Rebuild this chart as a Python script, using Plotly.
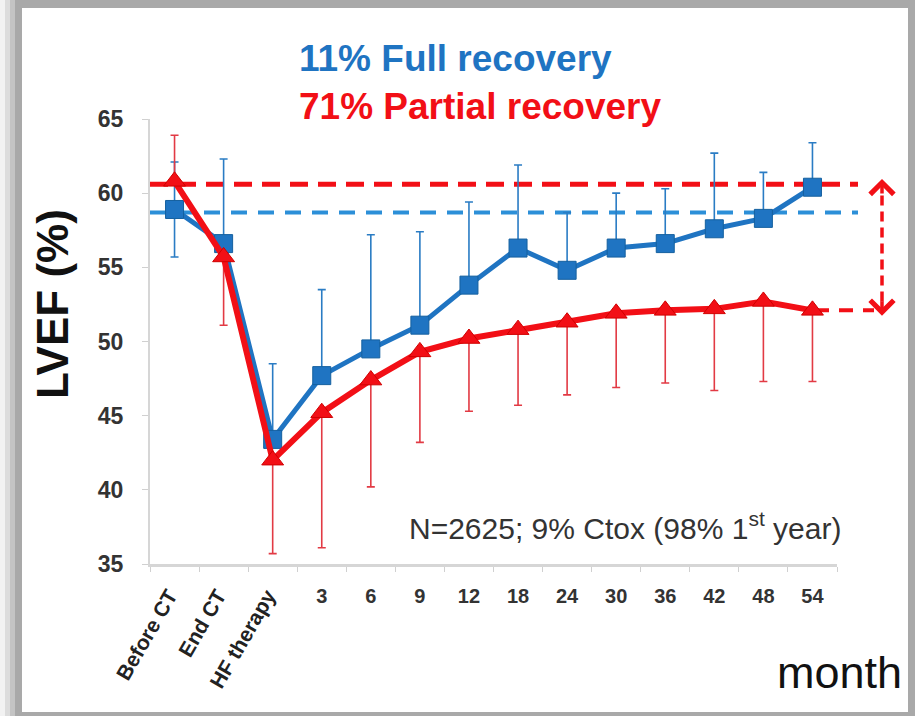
import plotly.graph_objects as go

# ---------------- data ----------------
categories = ["Before CT", "End CT", "HF therapy", "3", "6", "9", "12", "18",
              "24", "30", "36", "42", "48", "54"]
rotated_labels = ["Before CT", "End CT", "HF therapy"]

full_mean = [58.9, 56.6, 43.4, 47.7, 49.5, 51.1, 53.8, 56.3, 54.8, 56.3, 56.6, 57.6, 58.3, 60.4]
full_err_plus = [3.2, 5.7, 5.1, 5.8, 7.7, 6.3, 5.6, 5.6, 3.9, 3.7, 3.7, 5.1, 3.1, 3.0]
full_err_minus = [3.2, 0, 0, 0, 0, 0, 0, 0, 0, 0, 0, 0, 0, 0]

partial_mean = [60.8, 55.7, 42.0, 45.2, 47.4, 49.3, 50.2, 50.8, 51.3, 51.9, 52.1, 52.2, 52.7, 52.1]
partial_err_plus = [3.1, 0, 0, 0, 0, 0, 0, 0, 0, 0, 0, 0, 0, 0]
partial_err_minus = [0, 4.6, 6.3, 9.1, 7.2, 6.1, 4.9, 5.1, 4.9, 5.0, 4.9, 5.5, 5.4, 4.8]

full_baseline = 58.7
partial_baseline = 60.6

y_ticks = [35, 40, 45, 50, 55, 60, 65]
Y_MIN, Y_MAX = 35, 65

# ---------------- layout geometry ----------------
W, H = 915, 716
ML, MR, MT, MB = 150, 78, 119, 152
PW = W - ML - MR
PH = H - MT - MB

def px2x(px):
    return (px - ML) / PW

def py2y(py):
    return (H - MB - py) / PH

def v2y(v):
    return (v - Y_MIN) / (Y_MAX - Y_MIN)

BLUE = "#1f74c2"
BLUE_LIGHT = "#2c8fd8"
RED = "#f20f16"
RED_ERR = "#e23a44"

fig = go.Figure()

fig.add_trace(go.Scatter(
    x=categories, y=full_mean, mode="lines+markers",
    line=dict(color=BLUE, width=5),
    marker=dict(symbol="square", size=18, color=BLUE, line=dict(color="#15609f", width=1)),
    error_y=dict(type="data", symmetric=False, array=full_err_plus, arrayminus=full_err_minus,
                 color="#2a7cc4", thickness=1.6, width=4),
    name="Full recovery", showlegend=False,
))
fig.add_trace(go.Scatter(
    x=categories, y=partial_mean, mode="lines+markers",
    line=dict(color=RED, width=6),
    marker=dict(symbol="triangle-up", size=19, color=RED, line=dict(color="#d00000", width=1)),
    error_y=dict(type="data", symmetric=False, array=partial_err_plus, arrayminus=partial_err_minus,
                 color=RED_ERR, thickness=1.6, width=4),
    name="Partial recovery", showlegend=False,
))

shapes = []
# frame
shapes.append(dict(type="rect", xref="paper", yref="paper", layer="below",
                   x0=px2x(0), x1=px2x(W), y0=py2y(H), y1=py2y(0),
                   fillcolor="#a9a9a9", line=dict(width=0)))
for x0, x1, col in [(0, 5, "#f2f2f2"), (5, 10, "#dcdcdc"), (10, 15, "#c4c4c4")]:
    shapes.append(dict(type="rect", xref="paper", yref="paper", layer="below",
                       x0=px2x(x0), x1=px2x(x1), y0=py2y(H), y1=py2y(0),
                       fillcolor=col, line=dict(width=0)))
shapes.append(dict(type="rect", xref="paper", yref="paper", layer="below",
                   x0=px2x(22), x1=px2x(908), y0=py2y(712), y1=py2y(8),
                   fillcolor="white", line=dict(width=0)))
# baselines
shapes.append(dict(type="line", xref="paper", yref="paper", layer="below",
                   x0=0, x1=px2x(858), y0=v2y(full_baseline), y1=v2y(full_baseline),
                   line=dict(color=BLUE_LIGHT, width=4, dash="16px,11px")))
shapes.append(dict(type="line", xref="paper", yref="paper", layer="below",
                   x0=0, x1=px2x(858), y0=v2y(partial_baseline), y1=v2y(partial_baseline),
                   line=dict(color=RED, width=5, dash="18px,10px")))
# partial recovery end level
shapes.append(dict(type="line", xref="paper", yref="paper", layer="below",
                   x0=px2x(815), x1=px2x(874), y0=v2y(partial_mean[-1]), y1=v2y(partial_mean[-1]),
                   line=dict(color=RED, width=4, dash="14px,10px")))
# vertical dashed arrow
AX = px2x(882)
shapes.append(dict(type="line", xref="paper", yref="paper", layer="above",
                   x0=AX, x1=AX, y0=v2y(partial_mean[-1]) + 0.02, y1=v2y(partial_baseline) - 0.02,
                   line=dict(color=RED, width=3.5, dash="10px,6px")))

annotations = []
# arrow heads
annotations.append(dict(xref="paper", yref="paper", x=AX, y=v2y(partial_baseline) + 0.012,
                        ax=0, ay=16, showarrow=True, arrowhead=4, arrowsize=1.3,
                        arrowwidth=3.5, arrowcolor=RED, text=""))
annotations.append(dict(xref="paper", yref="paper", x=AX, y=v2y(partial_mean[-1]) - 0.012,
                        ax=0, ay=-16, showarrow=True, arrowhead=4, arrowsize=1.3,
                        arrowwidth=3.5, arrowcolor=RED, text=""))
# titles
annotations.append(dict(xref="paper", yref="paper", x=px2x(297), y=py2y(58),
                        xanchor="left", yanchor="middle", showarrow=False,
                        text="<b>11% Full recovery</b>",
                        font=dict(family="Liberation Sans, Arial", size=37, color=BLUE)))
annotations.append(dict(xref="paper", yref="paper", x=px2x(297), y=py2y(107),
                        xanchor="left", yanchor="middle", showarrow=False,
                        text="<b>71% Partial recovery</b>",
                        font=dict(family="Liberation Sans, Arial", size=37, color=RED)))
# y title
annotations.append(dict(xref="paper", yref="paper", x=px2x(52), y=py2y(304),
                        xanchor="center", yanchor="middle", showarrow=False, textangle=-90,
                        text="<b>LVEF (%)</b>",
                        font=dict(family="Liberation Sans, Arial", size=44, color="#111111")))
# N text
annotations.append(dict(xref="paper", yref="paper", x=px2x(843), y=py2y(526),
                        xanchor="right", yanchor="middle", showarrow=False,
                        text="N=2625; 9% Ctox (98% 1<sup>st</sup> year)",
                        font=dict(family="Liberation Sans, Arial", size=30, color="#333333")))
# month
annotations.append(dict(xref="paper", yref="paper", x=px2x(904), y=py2y(672),
                        xanchor="right", yanchor="middle", showarrow=False,
                        text="month",
                        font=dict(family="Liberation Sans, Arial", size=45, color="#111111")))
# rotated category labels
for lab in rotated_labels:
    annotations.append(dict(xref="x", yref="paper", x=lab, y=0, xshift=10, yshift=-18,
                            xanchor="right", yanchor="top", showarrow=False, textangle=-60,
                            text="<b>" + lab + "</b>",
                            font=dict(family="Liberation Sans, Arial", size=21, color="#222222")))

ticktext = ["" if c in rotated_labels else "<b>" + c + "</b>" for c in categories]

fig.update_layout(
    width=W, height=H, autosize=False,
    margin=dict(l=ML, r=MR, t=MT, b=MB, pad=0),
    paper_bgcolor="white", plot_bgcolor="rgba(0,0,0,0)",
    shapes=shapes, annotations=annotations,
    xaxis=dict(type="category", categoryarray=categories, range=[-0.5, len(categories) - 0.5],
               tickvals=categories, ticktext=ticktext, tickangle=0,
               showgrid=False, zeroline=False, showline=True, linecolor="#d6d6d6", linewidth=3,
               ticks="outside", tickson="boundaries", ticklen=5, tickcolor="#d0d0d0", tickwidth=1,
               ticklabelstandoff=12,
               tickfont=dict(family="Liberation Sans, Arial", size=20, color="#333333")),
    yaxis=dict(range=[Y_MIN, Y_MAX], tickvals=y_ticks, ticktext=["<b>%d</b>" % t for t in y_ticks],
               showgrid=False, zeroline=False, showline=True, linecolor="#d6d6d6", linewidth=2,
               ticks="outside", ticklen=6, tickcolor="#d0d0d0", tickwidth=1,
               ticklabelstandoff=14,
               tickfont=dict(family="Liberation Sans, Arial", size=23, color="#333333")),
)

fig.write_html("out.html", config={"displayModeBar": False},
               post_script="document.body.style.margin='0';")
